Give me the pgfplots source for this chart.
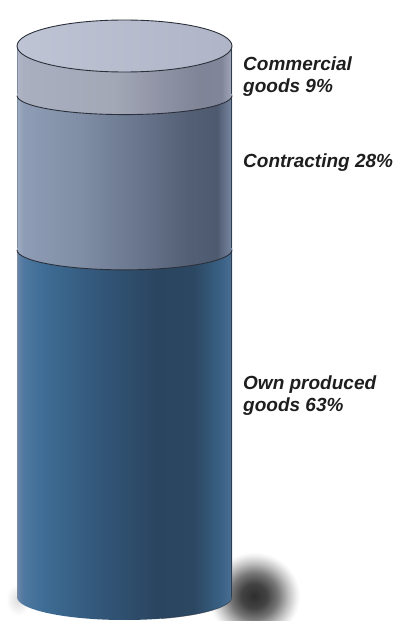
\documentclass[border=0pt]{standalone}
\usepackage{pgfplots}
\pgfplotsset{compat=1.18}
\usepackage{fontspec}
\setmainfont{Liberation Sans}

\definecolor{o0}{HTML}{6A86A8}
\definecolor{o1}{HTML}{4F78A0}
\definecolor{o2}{HTML}{3E6D95}
\definecolor{o3}{HTML}{34597C}
\definecolor{o4}{HTML}{2A4560}
\definecolor{o5}{HTML}{2B4761}
\definecolor{o6}{HTML}{3A6286}
\definecolor{o7}{HTML}{4B6F93}

\definecolor{c0}{HTML}{A0ADC2}
\definecolor{c1}{HTML}{8E9DB5}
\definecolor{c2}{HTML}{7F8DA5}
\definecolor{c3}{HTML}{6A778E}
\definecolor{c4}{HTML}{525F74}
\definecolor{c5}{HTML}{4E5A6F}
\definecolor{c6}{HTML}{7888A2}

\definecolor{m0}{HTML}{B0B6C6}
\definecolor{m1}{HTML}{A9AFBF}
\definecolor{m2}{HTML}{A3A8B7}
\definecolor{m3}{HTML}{9599AA}
\definecolor{m4}{HTML}{7F8497}
\definecolor{m5}{HTML}{80859A}
\definecolor{m6}{HTML}{A2A7B8}

\definecolor{t0}{HTML}{BEC4D4}
\definecolor{t1}{HTML}{AFB5C6}
\definecolor{rim}{HTML}{2B303A}
\definecolor{lbl}{HTML}{1E1E1E}
\definecolor{sh0}{HTML}{2E2E2E}
\definecolor{edgeL}{HTML}{7C8CA4}
\definecolor{edgeR}{HTML}{2E3E50}

\pgfdeclarehorizontalshading{ownsh}{100bp}{color(0bp)=(o0); color(25bp)=(o0); color(26.5bp)=(o1); color(31bp)=(o2); color(42.5bp)=(o3); color(57.5bp)=(o4); color(66bp)=(o5); color(72.5bp)=(o6); color(75bp)=(o7); color(100bp)=(o7)}
\pgfdeclarehorizontalshading{consh}{100bp}{color(0bp)=(c0); color(25bp)=(c0); color(26.5bp)=(c1); color(40bp)=(c2); color(52.5bp)=(c3); color(65bp)=(c4); color(71.5bp)=(c5); color(75bp)=(c6); color(100bp)=(c6)}
\pgfdeclarehorizontalshading{comsh}{100bp}{color(0bp)=(m0); color(25bp)=(m0); color(26.5bp)=(m1); color(47.5bp)=(m2); color(55bp)=(m3); color(67.5bp)=(m4); color(72.5bp)=(m5); color(75bp)=(m6); color(100bp)=(m6)}
\pgfdeclarehorizontalshading{topsh}{100bp}{color(0bp)=(t0); color(25bp)=(t0); color(75bp)=(t1); color(100bp)=(t1)}
\pgfdeclareradialshading{shadowsh}{\pgfpoint{0bp}{0bp}}{color(0bp)=(sh0); color(7bp)=(sh0!90!white); color(13bp)=(sh0!65!white); color(19bp)=(sh0!28!white); color(23bp)=(sh0!7!white); color(25bp)=(white); color(50bp)=(white)}
\pgfdeclareradialshading{shadowlt}{\pgfpoint{0bp}{0bp}}{color(0bp)=(black!13); color(25bp)=(white); color(50bp)=(white)}

\pgfplotsset{cyl/.style={
  width=414bp, height=621bp, scale only axis,
  xmin=0, xmax=414, ymin=-4.356, ymax=108.35,
  hide axis, clip=false, anchor=south west, at={(0,0)}}}

\begin{document}
\begin{tikzpicture}[lab/.style={anchor=base west, text=lbl, font=\fontsize{19bp}{22bp}\selectfont\bfseries\itshape, inner sep=0pt}]
\useasboundingbox (0,0) rectangle (414bp,621bp);
% layer 1: shadow
\begin{axis}[cyl]
\shade[shading=shadowsh] (axis cs:254,0.2) ellipse [x radius=46bp, y radius=44bp];
\shade[shading=shadowlt] (axis cs:18,-0.5) ellipse [x radius=12bp, y radius=16bp];
\end{axis}
% layer 2: stacked cylinder body (Own produced 63, Contracting 28, Commercial 9)
\begin{axis}[cyl, ybar stacked, bar width=215, bar shift=0pt]
\addplot[draw=none, shade, shading=ownsh] coordinates {(124.5,63)};
\addplot[draw=none, shade, shading=consh] coordinates {(124.5,28)};
\addplot[draw=none, shade, shading=comsh] coordinates {(124.5,9)};
\end{axis}
% layer 3: rims, edges, top face, labels
\begin{axis}[cyl]
\shade[shading=ownsh] (axis cs:17,0.3) -- (axis cs:17,0) arc[start angle=180, end angle=360, x radius=107.5bp, y radius=23bp] -- (axis cs:232,0.3) -- cycle;
\draw[rim, line width=0.7bp, opacity=0.55] (axis cs:161.3,-3.92) arc[start angle=290, end angle=360, x radius=107.5bp, y radius=23bp];
\draw[edgeL, line width=1.2bp] (axis cs:17.6,0) -- (axis cs:17.6,100);
\draw[edgeR, line width=0.7bp] (axis cs:231.6,0) -- (axis cs:231.6,100);
\shade[shading=consh] (axis cs:17,63.3) -- (axis cs:17,63) arc[start angle=180, end angle=360, x radius=107.5bp, y radius=20bp] -- (axis cs:232,63.3) -- cycle;
\draw[rim, line width=0.9bp] (axis cs:17,63) arc[start angle=180, end angle=360, x radius=107.5bp, y radius=20bp];
\shade[shading=comsh] (axis cs:17,91.3) -- (axis cs:17,91) arc[start angle=180, end angle=360, x radius=107.5bp, y radius=19bp] -- (axis cs:232,91.3) -- cycle;
\draw[rim, line width=0.9bp] (axis cs:17,91) arc[start angle=180, end angle=360, x radius=107.5bp, y radius=19bp];
\shade[shading=topsh, draw=rim, line width=0.9bp] (axis cs:124.5,100) ellipse [x radius=107.5bp, y radius=26bp];
\node[lab] at (axis cs:243,95.64) {Commercial};
\node[lab] at (axis cs:243,91.65) {goods 9\%};
\node[lab] at (axis cs:243,78.04) {Contracting 28\%};
\node[lab] at (axis cs:243,37.57) {Own produced};
\node[lab] at (axis cs:243,33.58) {goods 63\%};
\end{axis}
\end{tikzpicture}
\end{document}
